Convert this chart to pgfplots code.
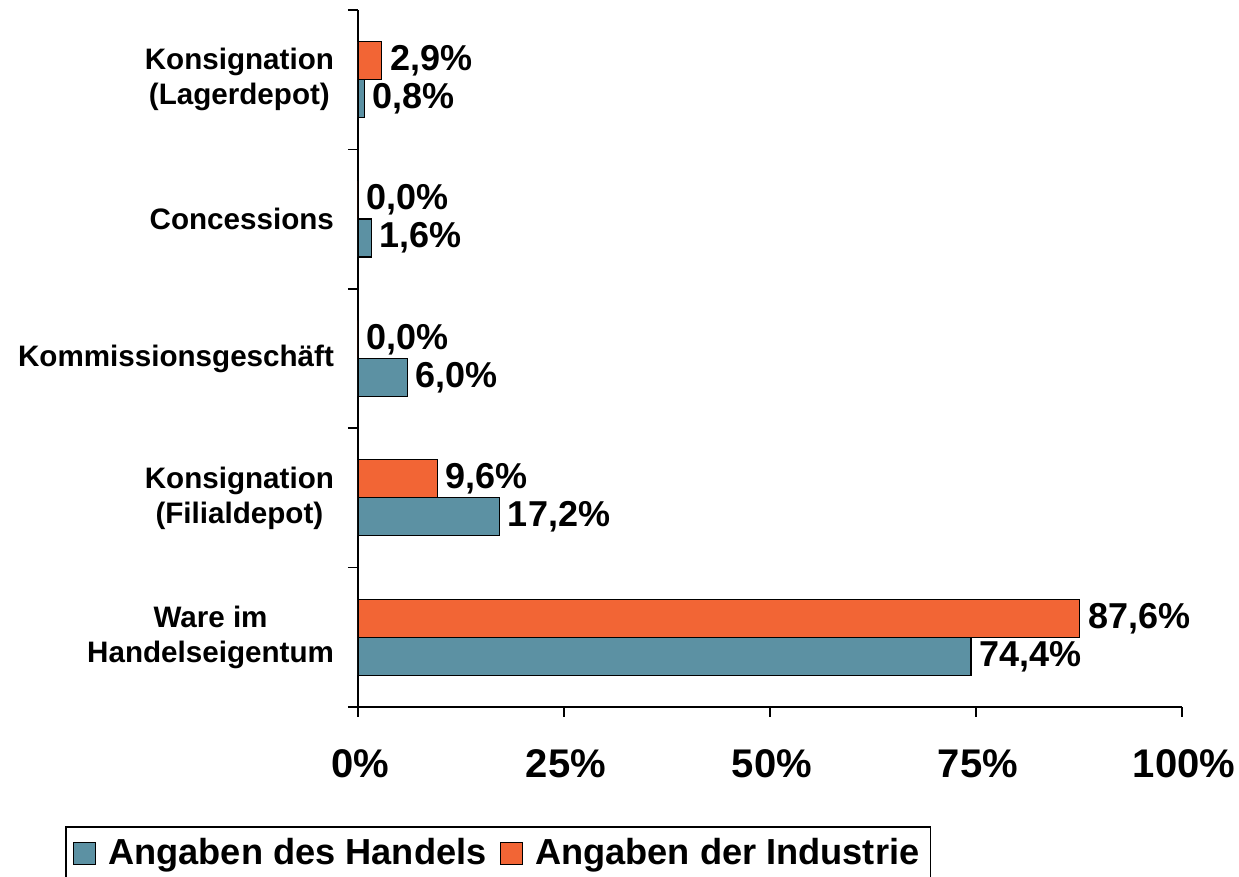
\documentclass[border=0pt]{standalone}
\usepackage{pgfplots}
\pgfplotsset{compat=1.18}
\usepackage{fontspec}
\setmainfont{Liberation Sans}
\definecolor{handel}{RGB}{92,145,163}
\definecolor{industrie}{RGB}{242,101,53}
\begin{document}
\begin{tikzpicture}
\useasboundingbox (0,0) rectangle (619.5pt,438.5pt);
\begin{axis}[
  at={(179pt,85pt)}, anchor=south west,
  scale only axis, width=412pt, height=348.5pt,
  xmin=0, xmax=100, ymin=-0.5, ymax=4.5,
  axis lines=left, axis line style={-, line width=0.8pt},
  xbar, bar width=19pt,
  xtick={0,25,50,75,100}, xticklabels={0\%,25\%,50\%,75\%,100\%},
  ytick={0,1,2,3,4},
  yticklabels={{Ware im\\Handelseigentum},{Konsignation\\(Filialdepot)},{Kommissionsgeschäft},{Concessions},{Konsignation\\(Lagerdepot)}},
  major y tick style={draw=none},
  minor ytick={-0.5,0.5,1.5,2.5,3.5,4.5},
  tick align=outside, major tick length=5pt, minor tick length=5pt,
  tick style={black, line width=0.8pt},
  yticklabel style={font=\bfseries\fontsize{14.8}{17.5}\selectfont, align=center, xshift=-3.5pt},
  xticklabel style={font=\bfseries\fontsize{20}{22}\selectfont, yshift=-13pt, xshift=1pt},
  point meta=x,
  /pgf/number format/assume math mode=true,
  nodes near coords={\pgfmathprintnumber[fixed,fixed zerofill,precision=1,use comma,assume math mode=true]{\pgfplotspointmeta}\%},
  every node near coord/.append style={font=\bfseries\fontsize{18}{20}\selectfont, anchor=west, xshift=0.5pt, black},
  legend style={at={(-0.3556,-0.1707)}, anchor=north west, legend columns=-1, draw=black, line width=0.8pt,
    font=\bfseries\fontsize{18.1}{20}\selectfont, inner ysep=4pt, inner xsep=3.5pt,
    /tikz/every odd column/.append style={column sep=4pt},
    /tikz/every even column/.append style={column sep=4.5pt}},
  legend image code/.code={\draw[#1,draw=black,line width=0.8pt] (0pt,-5.5pt) rectangle (11pt,5.5pt);},
]
\addplot[fill=handel, draw=black, line width=0.6pt, bar shift=-9.5pt] coordinates {(74.4,0) (17.2,1) (6.0,2) (1.6,3) (0.8,4)};
\addplot[fill=industrie, draw=black, line width=0.6pt, bar shift=9.5pt] coordinates {(87.6,0) (9.6,1) (0,2) (0,3) (2.9,4)};
\legend{Angaben des Handels, Angaben der Industrie}
\end{axis}
\end{tikzpicture}
\end{document}
